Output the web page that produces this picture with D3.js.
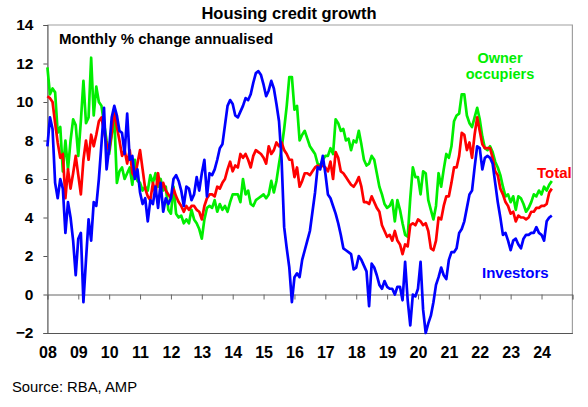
<!DOCTYPE html>
<html><head><meta charset="utf-8">
<script src="https://cdn.jsdelivr.net/npm/d3@7"></script>
<style>
html,body{margin:0;padding:0;background:#fff;}
svg{display:block;font-family:"Liberation Sans",Arial,Helvetica,sans-serif;}
</style></head>
<body><svg id="c" width="588" height="407"></svg>
<script>
// Monthly data, Jan 2008 .. May 2024 (one row per year)
const startYear = 2008;
const owner = [
 11.8,10.4,10.7,10.5,8.4,8.7,6.4,8.0,6.5,8.0,9.1,8.8,
 7.2,9.0,11.1,8.9,9.2,12.3,9.3,10.8,10.0,9.8,8.9,8.0,
 7.3,8.3,9.2,5.8,6.4,6.6,6.0,6.3,6.6,5.7,7.0,5.9,
 5.8,5.4,5.6,5.4,6.2,5.8,6.3,5.6,6.0,5.4,5.6,4.4,
 4.2,5.6,4.2,4.0,4.1,3.7,3.9,3.7,4.4,3.9,3.7,3.4,
 2.9,3.9,4.5,4.6,4.5,4.9,4.3,4.7,4.4,4.6,4.3,4.8,
 5.2,5.2,5.2,4.8,6.0,5.2,5.4,4.7,4.6,4.9,5.0,5.1,
 5.2,5.0,5.2,5.9,5.3,5.9,6.8,7.6,8.6,9.8,11.3,11.3,
 9.6,9.8,8.0,8.3,8.5,8.1,7.7,7.5,7.3,6.8,6.7,7.0,
 7.2,7.2,7.6,7.3,9.1,8.9,8.5,8.6,8.0,8.1,7.5,8.0,
 7.9,8.5,7.8,7.0,6.7,6.8,7.2,7.0,6.3,5.6,5.2,4.7,
 4.5,4.6,4.9,3.8,4.9,4.4,3.7,3.1,3.0,5.0,6.6,6.1,
 6.1,5.2,6.4,6.3,4.9,4.4,3.9,4.6,6.3,5.6,6.5,7.3,
 7.1,7.7,9.0,9.3,9.4,10.4,10.4,9.3,8.9,8.7,9.2,9.7,
 9.1,8.2,7.6,7.5,7.7,7.4,6.9,6.6,6.2,5.6,5.1,5.2,
 4.8,5.1,4.4,5.1,5.0,4.7,4.3,4.5,4.8,5.2,5.1,5.4,
 5.2,5.6,5.4,5.7,5.9
];
const total = [
 10.3,10.2,10.0,8.9,7.9,7.1,7.3,5.0,6.5,5.5,6.3,7.2,
 6.2,5.2,7.0,8.0,7.0,8.3,7.7,8.3,9.0,9.2,8.5,7.8,
 7.5,8.4,9.6,8.7,8.0,7.2,7.5,6.8,7.5,6.3,6.1,6.8,
 7.5,6.5,5.5,5.1,4.9,5.8,5.2,6.3,5.4,5.8,5.4,5.2,
 5.0,5.5,5.1,4.8,4.6,4.3,4.6,4.4,4.6,4.6,4.4,4.3,
 3.9,4.6,5.0,5.2,5.2,5.1,5.6,5.5,5.8,6.0,6.5,6.9,
 6.4,6.7,6.6,7.3,7.1,7.3,7.0,6.6,7.2,7.5,7.4,7.3,
 7.1,6.8,7.7,7.3,7.5,7.9,7.7,7.9,7.5,7.3,7.0,7.0,
 6.1,6.6,5.6,5.9,6.3,6.3,6.2,6.4,6.6,6.7,6.6,6.7,
 6.6,6.4,6.9,6.0,7.4,7.1,6.4,6.3,6.1,5.9,5.7,5.6,
 5.8,6.1,5.6,4.8,4.8,4.7,5.1,4.8,4.5,4.3,3.6,3.3,
 3.0,3.1,2.8,3.3,2.8,2.6,2.1,2.6,2.5,3.6,3.7,3.6,
 3.9,3.8,3.6,3.7,3.3,2.4,2.3,2.8,4.0,3.9,4.6,5.1,
 5.1,5.8,6.6,6.6,7.2,8.4,8.3,7.5,7.9,7.1,8.3,9.2,
 8.5,7.8,7.6,7.6,7.6,7.1,6.4,6.2,5.5,5.2,4.8,4.6,
 4.2,4.3,3.8,4.1,4.0,4.0,3.9,4.0,4.3,4.3,4.5,4.5,
 4.6,4.6,4.7,5.3,5.5
];
const investors = [
 7.7,9.2,8.6,5.8,5.0,6.0,5.5,3.2,4.8,4.0,2.8,1.0,
 2.9,3.2,-0.4,1.8,3.9,2.8,4.8,4.6,6.0,7.8,9.7,6.5,
 7.6,9.2,9.8,9.3,8.5,8.4,7.3,9.4,7.0,7.2,6.0,6.5,
 5.3,4.7,5.0,3.8,4.9,4.7,5.6,4.5,5.8,4.3,5.0,4.7,
 5.0,6.0,6.2,5.9,5.4,4.6,5.6,5.5,4.9,5.2,6.1,5.4,
 6.3,7.0,5.1,6.3,6.2,6.5,7.0,7.6,7.8,8.8,9.8,10.1,
 9.9,9.3,9.2,9.5,9.8,10.2,10.1,10.4,11.0,11.5,11.6,11.4,
 10.9,10.3,10.6,11.1,10.7,9.9,9.0,7.0,3.5,2.4,1.4,-0.4,
 0.9,1.1,0.9,1.8,2.3,2.8,3.3,4.3,5.3,6.6,6.5,7.2,
 6.3,5.2,5.0,4.6,4.2,3.7,3.1,2.4,2.3,2.2,2.1,1.3,
 1.4,2.0,1.8,1.5,1.2,-0.6,1.6,1.4,1.0,0.5,0.3,0.7,
 0.4,0.3,0.3,0.0,0.4,0.4,-0.3,1.7,-0.3,-1.6,0.0,-0.1,
 0.3,1.7,-0.8,-2.0,-1.5,-1.1,-0.4,0.5,0.9,1.4,1.0,0.8,
 1.8,2.2,2.2,2.4,3.2,3.4,3.8,4.5,5.2,5.4,6.6,7.7,
 7.6,6.5,7.1,7.2,7.1,6.8,5.8,4.8,4.0,3.1,3.2,2.8,
 2.3,2.8,2.9,2.6,2.4,2.9,3.1,3.1,3.2,3.2,3.5,3.2,
 3.1,2.8,3.8,4.0,4.1
];
const yearTicks = [2008,2009,2010,2011,2012,2013,2014,2015,2016,2017,2018,2019,2020,2021,2022,2023,2024];
const yearLabels = ["08","09","10","11","12","13","14","15","16","17","18","19","20","21","22","23","24"];
const yTicks = [-2,0,2,4,6,8,10,12,14];

const svg = d3.select("#c");
const L = 47.4, R = 572.4, T = 25, B = 333;
const x = d3.scaleLinear().domain([2008, 2025]).range([L, R]);
const y = d3.scaleLinear().domain([-2, 14]).range([B, T]);
const FONT = '"Liberation Sans",Arial,Helvetica,sans-serif';

// frame (top & right)
svg.append("path").attr("d", `M${L},${T}H${R}V${B}`).attr("fill","none").attr("stroke","#a0a0a0").attr("stroke-width",1.2);

// y axis
const ya = svg.append("g").attr("transform",`translate(${L},0)`)
  .call(d3.axisLeft(y).tickValues(yTicks).tickSize(4).tickPadding(10).tickFormat(d3.format("d")));
ya.select(".domain").attr("stroke","#555").attr("stroke-width",1.2);
ya.selectAll(".tick line").attr("stroke","#555");
ya.selectAll("text").attr("font-family",FONT).attr("font-size","15.5px").attr("font-weight","bold").attr("fill","#000");

// bottom axis with labels
const xb = svg.append("g").attr("transform",`translate(0,${B})`)
  .call(d3.axisBottom(x).tickValues(yearTicks).tickSize(0).tickPadding(13.5).tickFormat((d,i)=>yearLabels[i]));
xb.select(".domain").attr("stroke","#555").attr("stroke-width",1.2);
xb.selectAll("text").attr("font-family",FONT).attr("font-size","16px").attr("font-weight","bold").attr("fill","#000");

// zero line with year ticks
const xz = svg.append("g").attr("transform",`translate(0,${y(0)})`)
  .call(d3.axisBottom(x).tickValues(yearTicks.concat([2025])).tickSize(5).tickFormat(""));
xz.select(".domain").attr("stroke","#666").attr("stroke-width",1);
xz.selectAll(".tick line").attr("stroke","#666");

const line = d3.line().x((d,i)=>x(startYear + i/12)).y(d=>y(d));
const series = [
  {data: owner, color:"#00ee00"},
  {data: total, color:"#ff0000"},
  {data: investors, color:"#0000ff"}
];
series.forEach(s=>{
  svg.append("path").datum(s.data).attr("d",line).attr("fill","none")
    .attr("stroke",s.color).attr("stroke-width",2.7).attr("stroke-linejoin","round");
});

// texts
svg.append("text").attr("x",289).attr("y",19.3).attr("text-anchor","middle")
  .attr("font-family",FONT).attr("font-size","16.5px").attr("font-weight","bold").text("Housing credit growth");
svg.append("text").attr("x",59).attr("y",44.3)
  .attr("font-family",FONT).attr("font-size","15px").attr("font-weight","bold").text("Monthly % change annualised");
svg.append("text").attr("x",500).attr("y",62.8).attr("text-anchor","middle").attr("font-family",FONT)
  .attr("font-size","14.5px").attr("font-weight","bold").attr("fill","#00ee00").text("Owner");
svg.append("text").attr("x",500).attr("y",79.2).attr("text-anchor","middle").attr("font-family",FONT)
  .attr("font-size","14.5px").attr("font-weight","bold").attr("fill","#00ee00").text("occupiers");
svg.append("text").attr("x",537).attr("y",177.5).attr("font-family",FONT).attr("font-size","15px")
  .attr("font-weight","bold").attr("fill","#ff0000").text("Total");
svg.append("text").attr("x",482).attr("y",277.7).attr("font-family",FONT).attr("font-size","15px")
  .attr("font-weight","bold").attr("fill","#0000ff").text("Investors");
svg.append("text").attr("x",12).attr("y",392.3).attr("font-family",FONT).attr("font-size","14.8px")
  .attr("fill","#000").text("Source: RBA, AMP");
</script></body></html>
